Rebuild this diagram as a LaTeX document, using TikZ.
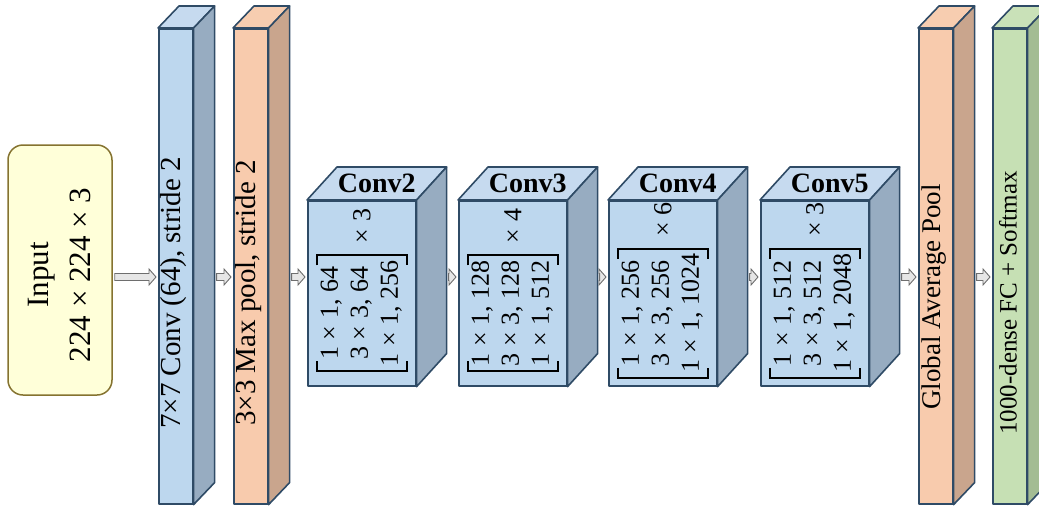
\documentclass[tikz,border=0pt]{standalone}
\usepackage{fontspec}
\setmainfont{Liberation Serif}
\usetikzlibrary{calc}

\definecolor{edgecol}{HTML}{2F4B66}
\definecolor{bluefront}{HTML}{BDD7EE}
\definecolor{bluetop}{HTML}{C6DAEF}
\definecolor{blueside}{HTML}{97ACC1}
\definecolor{orfront}{HTML}{F8CBAD}
\definecolor{ortop}{HTML}{F7CDB0}
\definecolor{orside}{HTML}{C9A58D}
\definecolor{grfront}{HTML}{C6E0B4}
\definecolor{grtop}{HTML}{C9E1B8}
\definecolor{grside}{HTML}{A3BC93}
\definecolor{inputfill}{HTML}{FFFFD9}
\definecolor{inputedge}{HTML}{857330}
\definecolor{arrowfill}{HTML}{E6E6E6}
\definecolor{arrowedge}{HTML}{6E6E6E}

% top and side faces of a box whose front face is node #1
\newcommand\cuboid[5]{%
  \draw[faceline, fill=#4] (#1.north west) -- ++(#2,-#3)
     -- ($(#1.north east)+(#2,-#3)$) -- (#1.north east) -- cycle;
  \draw[faceline, fill=#5] (#1.north east) -- ++(#2,-#3)
     -- ($(#1.south east)+(#2,-#3)$) -- (#1.south east) -- cycle;
  \coordinate (#1-back) at ($(#1.south east)+(#2,-#3)$);}

% hollow block arrow between two points on the flow axis
\newcommand\flowarrow[2]{%
  \path[flowarrow] let \p1=(#1), \p2=(#2) in
    (\x1+2pt,\y1+3.5pt) -- (\x2-9pt,\y1+3.5pt) -- (\x2-9pt,\y1+8pt)
    -- (\x2-2pt,\y1) -- (\x2-9pt,\y1-8pt) -- (\x2-9pt,\y1-3.5pt)
    -- (\x1+2pt,\y1-3.5pt) -- cycle;}

% bracketed bottleneck matrix inside conv block #1, with repeat count #3
\newcommand\blockmatrix[3]{%
  \node[mattext] (#1m) at ($(#1.center)+(0,20)$)
    {\begin{tabular}{@{}c@{}}#2\end{tabular}};
  \draw[brk] ($(#1m.north west)+(0,-5)$) -- ($(#1m.north west)+(0,5)$)
     -- ($(#1m.south west)+(0,5)$) -- ($(#1m.south west)+(0,-5)$);
  \draw[brk] ($(#1m.north east)+(0,5)$) -- ($(#1m.north east)+(0,-5)$)
     -- ($(#1m.south east)+(0,-5)$) -- ($(#1m.south east)+(0,5)$);
  \node[mattext, anchor=west] (#1rep) at ($(#1m.east)+(0,-17)$) {× #3};}

\begin{document}
\begin{tikzpicture}[x=1pt, y=-1pt,
  faceline/.style={draw=edgecol, line width=1.6pt, line join=round},
  front/.style={faceline, inner sep=0pt, anchor=north west},
  barfront/.style={front, minimum width=34pt, minimum height=475pt},
  convfront/.style={front, fill=bluefront, minimum width=108pt, minimum height=185pt},
  bartext/.style={rotate=90, inner sep=0pt, font=\fontsize{29}{34}\selectfont},
  mattext/.style={rotate=90, inner sep=0pt, font=\fontsize{26}{30}\selectfont},
  convlabel/.style={inner sep=0pt, anchor=base, font=\fontsize{28}{32}\selectfont\bfseries},
  brk/.style={draw=black, line width=2.2pt, line join=miter},
  inputbox/.style={draw=inputedge, fill=inputfill, line width=1.5pt,
    rounded corners=15pt, minimum width=104pt, minimum height=250pt, inner sep=0pt},
  flowarrow/.style={draw=arrowedge, fill=arrowfill, line width=0.9pt, line join=miter}]

\useasboundingbox (0,0) rectangle (1039,509);
\coordinate (axis) at (0,277);

% input
\node[inputbox] (input) at (60,270) {};
\node[bartext, font=\fontsize{31}{42}\selectfont, align=center] (inputtext)
  at (60,275) {Input\\224 × 224 × 3};

% stem layers
\node[barfront, fill=bluefront] (b1) at (158,28) {};
\cuboid{b1}{21}{22}{bluetop}{blueside}
\node[bartext] (b1text) at (174,293) {7×7 Conv (64), stride 2};

\node[barfront, fill=orfront] (b2) at (233,28) {};
\cuboid{b2}{21}{22}{ortop}{orside}
\node[bartext] (b2text) at (249,293) {3×3 Max pool, stride 2};

% residual stages
\node[convfront] (c2) at (307,200) {};
\cuboid{c2}{30}{33}{bluetop}{blueside}
\node[convlabel] (c2label) at ($(c2.north)+(15,-8)$) {Conv2};
\blockmatrix{c2}{1 × 1, 64\\3 × 3, 64\\1 × 1, 256}{3}

\node[convfront] (c3) at (458,200) {};
\cuboid{c3}{30}{33}{bluetop}{blueside}
\node[convlabel] (c3label) at ($(c3.north)+(15,-8)$) {Conv3};
\blockmatrix{c3}{1 × 1, 128\\3 × 3, 128\\1 × 1, 512}{4}

\node[convfront] (c4) at (608,200) {};
\cuboid{c4}{30}{33}{bluetop}{blueside}
\node[convlabel] (c4label) at ($(c4.north)+(15,-8)$) {Conv4};
\blockmatrix{c4}{1 × 1, 256\\3 × 3, 256\\1 × 1, 1024}{6}

\node[convfront] (c5) at (760,200) {};
\cuboid{c5}{30}{33}{bluetop}{blueside}
\node[convlabel] (c5label) at ($(c5.north)+(15,-8)$) {Conv5};
\blockmatrix{c5}{1 × 1, 512\\3 × 3, 512\\1 × 1, 2048}{3}

% head
\node[barfront, fill=orfront] (gap) at (918,28) {};
\cuboid{gap}{21}{22}{ortop}{orside}
\node[bartext, font=\fontsize{27}{32}\selectfont] (gaptext) at (934,297) {Global Average Pool};

\node[barfront, fill=grfront] (fc) at (992,28) {};
\cuboid{fc}{21}{22}{grtop}{grside}
\node[bartext, font=\fontsize{25}{30}\selectfont] (fctext) at (1008,303) {1000-dense FC + Softmax};

% data flow
\flowarrow{input.east |- axis}{b1.west |- axis}
\flowarrow{b1-back |- axis}{b2.west |- axis}
\flowarrow{b2-back |- axis}{c2.west |- axis}
\flowarrow{c2-back |- axis}{c3.west |- axis}
\flowarrow{c3-back |- axis}{c4.west |- axis}
\flowarrow{c4-back |- axis}{c5.west |- axis}
\flowarrow{c5-back |- axis}{gap.west |- axis}
\flowarrow{gap-back |- axis}{fc.west |- axis}
\end{tikzpicture}
\end{document}
